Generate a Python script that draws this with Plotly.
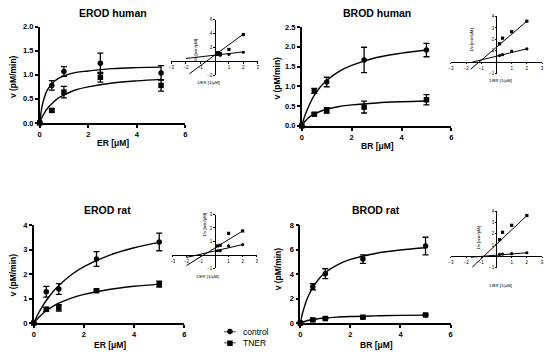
import plotly.graph_objects as go

# ---------------- data ----------------
S = [0, 0.5, 1, 2.5, 5]                       # substrate [µM]
CX = [0, 0.1, 0.2, 0.3, 0.5, 0.75, 1, 1.5, 2, 3, 4, 5]   # x of fitted curves

# EROD human
erod_h_ctrl = [0, 0.78, 1.07, 1.24, 1.04]
erod_h_ctrl_err = [0, 0.10, 0.10, 0.21, 0.15]
erod_h_tner = [0, 0.26, 0.64, 0.95, 0.78]
erod_h_tner_err = [0, 0.03, 0.12, 0.10, 0.12]
erod_h_ctrl_fit = [0, 0.35, 0.54, 0.67, 0.81, 0.92, 0.98, 1.05, 1.08, 1.13, 1.15, 1.16]
erod_h_tner_fit = [0, 0.12, 0.21, 0.29, 0.40, 0.51, 0.58, 0.69, 0.75, 0.83, 0.875, 0.905]

# BROD human
brod_h_ctrl = [0, 0.885, 1.11, 1.67, 1.92]
brod_h_ctrl_err = [0, 0.06, 0.12, 0.32, 0.17]
brod_h_tner = [0, 0.295, 0.39, 0.475, 0.66]
brod_h_tner_err = [0, 0.03, 0.07, 0.15, 0.13]
brod_h_ctrl_fit = [0, 0.21, 0.38, 0.53, 0.77, 0.99, 1.15, 1.38, 1.53, 1.73, 1.84, 1.92]
brod_h_tner_fit = [0, 0.09, 0.16, 0.22, 0.30, 0.37, 0.42, 0.49, 0.53, 0.58, 0.61, 0.63]

# EROD rat
erod_r_ctrl = [0, 1.28, 1.39, 2.61, 3.31]
erod_r_ctrl_err = [0, 0.22, 0.22, 0.30, 0.36]
erod_r_tner = [0, 0.56, 0.62, 1.32, 1.59]
erod_r_tner_err = [0, 0.08, 0.13, 0.05, 0.12]
erod_r_ctrl_fit = [0, 0.22, 0.42, 0.60, 0.92, 1.26, 1.53, 1.97, 2.30, 2.76, 3.07, 3.29]
erod_r_tner_fit = [0, 0.12, 0.23, 0.33, 0.50, 0.67, 0.81, 1.02, 1.17, 1.37, 1.50, 1.59]

# BROD rat
brod_r_ctrl = [0, 2.97, 4.03, 5.22, 6.28]
brod_r_ctrl_err = [0, 0.25, 0.40, 0.35, 0.72]
brod_r_tner = [0, 0.26, 0.37, 0.48, 0.66]
brod_r_tner_err = [0, 0.03, 0.05, 0.05, 0.05]
brod_r_ctrl_fit = [0, 0.88, 1.56, 2.10, 2.92, 3.62, 4.12, 4.77, 5.19, 5.68, 5.96, 6.14]
brod_r_tner_fit = [0, 0.08, 0.15, 0.21, 0.29, 0.36, 0.42, 0.49, 0.54, 0.59, 0.63, 0.65]

# Lineweaver-Burk insets
INV_X = [0.2, 0.4, 1, 2]
lb_erod_h_ctrl = [0.95, 0.85, 1.00, 1.30]
lb_erod_h_tner = [1.25, 1.10, 1.70, 3.85]
lb_erod_h_ctrl_line = ([-2.0, 2.0], [0.40, 1.35])
lb_erod_h_tner_line = ([-1.75, 2.0], [-1.80, 3.90])

lb_brod_h_ctrl = [0.56, 0.64, 0.96, 1.16]
lb_brod_h_tner = [1.60, 2.10, 2.67, 3.60]
lb_brod_h_ctrl_line = ([-1.6, 2.0], [-0.02, 1.16])
lb_brod_h_tner_line = ([-1.7, 2.0], [-0.65, 3.60])

lb_erod_r_ctrl = [0.30, 0.31, 0.66, 0.76]
lb_erod_r_tner = [0.66, 0.71, 1.60, 1.78]
lb_erod_r_ctrl_line = ([-2.0, 2.0], [-0.20, 0.76])
lb_erod_r_tner_line = ([-2.0, 2.0], [-0.80, 1.78])

lb_brod_r_ctrl = [0.15, 0.18, 0.22, 0.30]
lb_brod_r_tner = [1.48, 2.14, 2.77, 3.65]
lb_brod_r_ctrl_line = ([-1.7, 2.0], [-0.10, 0.30])
lb_brod_r_tner_line = ([-1.6, 2.0], [-1.00, 3.65])

SERIES = ["control", "TNER"]

# ---------------- figure ----------------
W, H = 550, 358
FONT = "Liberation Sans, Arial, sans-serif"
fig = go.Figure()


def px_x(p):
    return p / W


def px_y(p):
    return 1 - p / H


def main_panel(i, ctrl, ce, tner, te, cfit, tfit):
    xa, ya = ("x" if i == 1 else f"x{i}"), ("y" if i == 1 else f"y{i}")
    for fit in (cfit, tfit):
        fig.add_trace(go.Scatter(x=CX, y=fit, mode="lines", line=dict(color="black", width=1.4, shape="spline"),
                                 xaxis=xa, yaxis=ya, showlegend=False, hoverinfo="skip"))
    for vals, err, sym, nm in ((ctrl, ce, "circle", SERIES[0]), (tner, te, "square", SERIES[1])):
        fig.add_trace(go.Scatter(x=S, y=vals, mode="markers", name=nm,
                                 marker=dict(symbol=sym, size=5.5, color="black"),
                                 error_y=dict(type="data", array=err, color="black", thickness=1.3, width=3),
                                 cliponaxis=False, xaxis=xa, yaxis=ya, showlegend=False))


def inset_panel(i, ctrl, tner, cline, tline):
    xa, ya = f"x{i}", f"y{i}"
    for ln in (cline, tline):
        fig.add_trace(go.Scatter(x=ln[0], y=ln[1], mode="lines", line=dict(color="black", width=1.0),
                                 xaxis=xa, yaxis=ya, showlegend=False, hoverinfo="skip"))
    for vals, sym in ((ctrl, "circle"), (tner, "square")):
        fig.add_trace(go.Scatter(x=INV_X, y=vals, mode="markers", marker=dict(symbol=sym, size=3.2, color="black"),
                                 cliponaxis=False, xaxis=xa, yaxis=ya, showlegend=False))


main_panel(1, erod_h_ctrl, erod_h_ctrl_err, erod_h_tner, erod_h_tner_err, erod_h_ctrl_fit, erod_h_tner_fit)
main_panel(2, brod_h_ctrl, brod_h_ctrl_err, brod_h_tner, brod_h_tner_err, brod_h_ctrl_fit, brod_h_tner_fit)
main_panel(3, erod_r_ctrl, erod_r_ctrl_err, erod_r_tner, erod_r_tner_err, erod_r_ctrl_fit, erod_r_tner_fit)
main_panel(4, brod_r_ctrl, brod_r_ctrl_err, brod_r_tner, brod_r_tner_err, brod_r_ctrl_fit, brod_r_tner_fit)
inset_panel(5, lb_erod_h_ctrl, lb_erod_h_tner, lb_erod_h_ctrl_line, lb_erod_h_tner_line)
inset_panel(6, lb_brod_h_ctrl, lb_brod_h_tner, lb_brod_h_ctrl_line, lb_brod_h_tner_line)
inset_panel(7, lb_erod_r_ctrl, lb_erod_r_tner, lb_erod_r_ctrl_line, lb_erod_r_tner_line)
inset_panel(8, lb_brod_r_ctrl, lb_brod_r_tner, lb_brod_r_ctrl_line, lb_brod_r_tner_line)

# hand-drawn legend key on a hidden helper axis (x9/y9): one row per series
for row, sym in ((0, "circle"), (1, "square")):
    fig.add_trace(go.Scatter(x=[0, 1], y=[row, row], mode="lines", line=dict(color="black", width=1.4),
                             xaxis="x9", yaxis="y9", showlegend=False, hoverinfo="skip"))
    fig.add_trace(go.Scatter(x=[0.5], y=[row], mode="markers", marker=dict(symbol=sym, size=5.5, color="black"),
                             xaxis="x9", yaxis="y9", showlegend=False, hoverinfo="skip", cliponaxis=False))

layout = dict(width=W, height=H, autosize=False, margin=dict(l=0, r=0, t=0, b=0),
              paper_bgcolor="white", plot_bgcolor="white",
              font=dict(family=FONT, color="black"),
              showlegend=False)

main_specs = {
    1: dict(xd=(37, 184), yd=(122, 23.3), yr=2.0, yt=[0, 0.5, 1.0, 1.5, 2.0], fmt="%.1f"),
    2: dict(xd=(301.5, 452.5), yd=(125, 23.7), yr=2.5, yt=[0, 0.5, 1.0, 1.5, 2.0, 2.5], fmt="%.1f"),
    3: dict(xd=(31, 183), yd=(327.3, 226.7), yr=4, yt=[0, 1, 2, 3, 4], fmt="%d"),
    4: dict(xd=(300, 451.7), yd=(327.3, 226.7), yr=8, yt=[0, 2, 4, 6, 8], fmt="%d"),
}
tickfont = dict(size=7.5, family=FONT, color="black", weight="bold")
for i, s in main_specs.items():
    xk = "xaxis" if i == 1 else f"xaxis{i}"
    yk = "yaxis" if i == 1 else f"yaxis{i}"
    layout[xk] = dict(domain=[px_x(s["xd"][0]), px_x(s["xd"][1])], range=[0, 6], tickvals=[0, 2, 4, 6],
                      anchor="y" if i == 1 else f"y{i}", showline=True, linecolor="black", linewidth=1.5,
                      ticks="outside", ticklen=3, tickwidth=1.5, tickcolor="black", tickfont=tickfont,
                      showgrid=False, zeroline=False, fixedrange=True)
    layout[yk] = dict(domain=[px_y(s["yd"][0]), px_y(s["yd"][1])], range=[0, s["yr"]], tickvals=s["yt"],
                      ticktext=[s["fmt"] % v for v in s["yt"]],
                      anchor="x" if i == 1 else f"x{i}", showline=True, linecolor="black", linewidth=1.5,
                      ticks="outside", ticklen=3, tickwidth=1.5, tickcolor="black", tickfont=tickfont,
                      showgrid=False, zeroline=False, fixedrange=True)

inset_specs = {
    5: dict(xd=(170, 257), yd=(73, 16), yr=(-2, 6), yt=[-2, 2, 4, 6]),
    6: dict(xd=(452, 544), yd=(71, 13), yr=(-1, 4), yt=[-1, 1, 2, 3, 4]),
    7: dict(xd=(171, 256), yd=(271, 216), yr=(-1, 3), yt=[-1, 1, 2, 3]),
    8: dict(xd=(452, 544), yd=(270, 213), yr=(-1, 4), yt=[-1, 1, 2, 3, 4]),
}
itick = dict(size=4.5, family=FONT, color="black")
for i, s in inset_specs.items():
    x0, x1 = px_x(s["xd"][0]), px_x(s["xd"][1])
    y0, y1 = px_y(s["yd"][0]), px_y(s["yd"][1])
    lo, hi = s["yr"]
    xpos = y0 + (0 - lo) / (hi - lo) * (y1 - y0)
    ypos = x0 + 0.5 * (x1 - x0)
    layout[f"xaxis{i}"] = dict(domain=[x0, x1], range=[-3, 3], tickvals=[-3, -2, -1, 1, 2, 3],
                               anchor="free", position=xpos, showline=True, linecolor="black", linewidth=0.8,
                               ticks="outside", ticklen=1.5, tickwidth=0.7, tickcolor="black", tickfont=itick,
                               showgrid=False, zeroline=False, fixedrange=True)
    layout[f"yaxis{i}"] = dict(domain=[y0, y1], range=[lo, hi], tickvals=s["yt"],
                               anchor="free", position=ypos, showline=True, linecolor="black", linewidth=0.8,
                               ticks="outside", ticklen=1.5, tickwidth=0.7, tickcolor="black", tickfont=itick,
                               showgrid=False, zeroline=False, fixedrange=True)

# legend helper axis: rows 0 (y=336) and 1 (y=348), key from x=223 to 235
layout["xaxis9"] = dict(domain=[px_x(223), px_x(235)], range=[0, 1], visible=False, fixedrange=True, anchor="y9")
layout["yaxis9"] = dict(domain=[px_y(348), px_y(336)], range=[1, 0], visible=False, fixedrange=True, anchor="x9")

ann = []


def text(t, x, y, size, bold=True, angle=0, xanchor="center"):
    ann.append(dict(text=t, x=px_x(x), y=px_y(y), xref="paper", yref="paper", showarrow=False,
                    xanchor=xanchor, yanchor="middle", textangle=angle,
                    font=dict(size=size, family=FONT, color="black", weight="bold" if bold else "normal")))


# panel titles
text("EROD human", 111.5, 9, 10.5)
text("BROD human", 377.5, 9, 10.5)
text("EROD rat", 105, 211.7, 10.5)
text("BROD rat", 376.5, 211.7, 10.5)
# axis titles
text("ER [μM]", 111, 143, 8.5)
text("BR [μM]", 378, 146, 8.5)
text("ER [μM]", 107.5, 350, 8.5)
text("BR [μM]", 376.8, 350, 8.5)
text("v (pM/min)", 10, 74, 8.5, angle=-90)
text("v (pM/min)", 277, 76, 8.5, angle=-90)
text("v (pM/min)", 10, 277.5, 8.5, angle=-90)
text("v (pM/min)", 277, 271.7, 8.5, angle=-90)
# inset titles
text("1/v [min/pM]", 194.3, 48, 4.3, bold=False, angle=-90)
text("1/ER [1/μM]", 207, 81, 4.3, bold=False)
text("1/v [min/pM]", 472, 37, 4.3, bold=False, angle=-90)
text("1/BR [1/μM]", 502, 78, 4.3, bold=False)
text("1/v [min/pM]", 203, 227, 4.3, bold=False, angle=-90)
text("1/ER [1/μM]", 206.7, 279.3, 4.3, bold=False)
text("1/v [min/pM]", 480, 240, 4.3, bold=False, angle=-90)
text("1/BR [1/μM]", 501.7, 288.3, 4.3, bold=False)
# legend labels
text(SERIES[0], 240, 336, 8.5, bold=False, xanchor="left")
text(SERIES[1], 240, 348, 8.5, bold=False, xanchor="left")

layout["annotations"] = ann
fig.update_layout(**layout)
fig.write_html("out.html", config={"displayModeBar": False},
               post_script="document.body.style.margin='0px';document.body.style.padding='0px';")
